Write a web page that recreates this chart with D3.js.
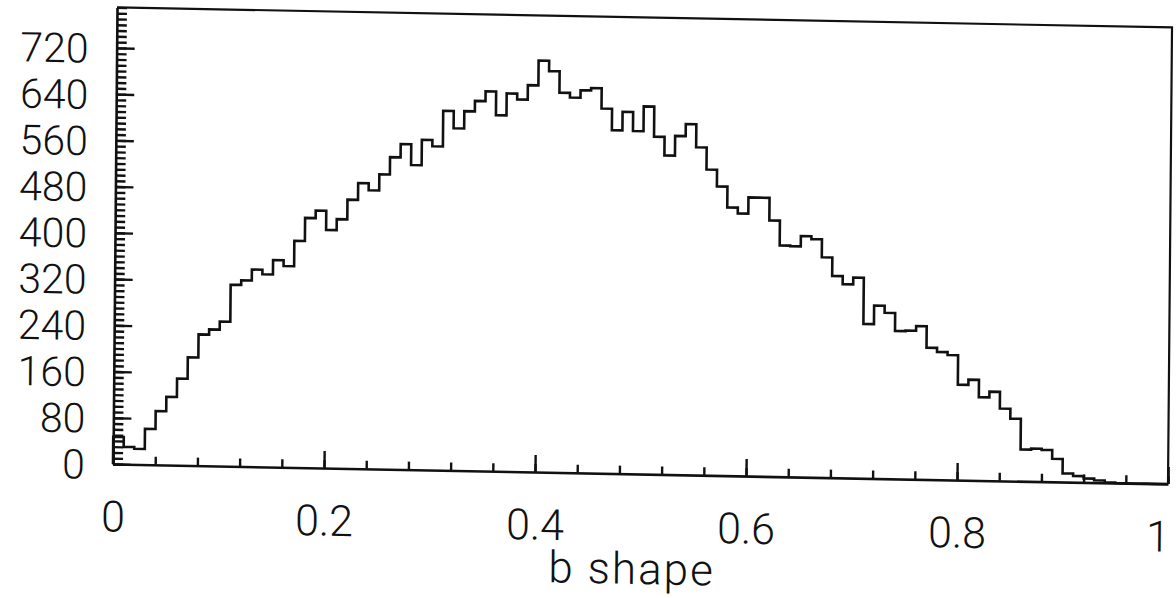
<!DOCTYPE html>
<html>
<head>
<meta charset="utf-8">
<script src="https://cdn.jsdelivr.net/npm/d3@7"></script>
<style>
  body { margin: 0; background: #fff; }
  svg { display: block; }
  .axis path, .axis line { stroke: #111; }
  .label { font-family: "Roboto", "Liberation Sans", Arial, sans-serif; font-weight: 300; fill: #111; }
</style>
</head>
<body>
<div id="chart"></div>
<script>
// histogram of "b shape", 100 bins from 0 to 1 (counts)
let binWidth = 0.01;
let counts = [
    47, 30, 27, 62, 93, 118, 150, 187, 227, 236,
    250, 314, 322, 341, 333, 358, 348, 392, 432, 445,
    412, 431, 465, 494, 482, 510, 540, 563, 527, 571,
    560, 622, 592, 622, 640, 657, 616, 654, 644, 669,
    712, 694, 657, 649, 662, 666, 631, 594, 626, 593,
    636, 584, 552, 586, 607, 567, 529, 500, 464, 454,
    482, 482, 443, 400, 399, 417, 412, 381, 349, 335,
    347, 267, 299, 287, 256, 257, 265, 228, 221, 216,
    165, 174, 144, 154, 125, 108, 55, 57, 55, 40,
    15, 11, 7, 4, 1, 0, 0, 0, 0, 0
];
let xMajorTicks = [0, 0.2, 0.4, 0.6, 0.8, 1];
let xTickLabels = ["0", "0.2", "0.4", "0.6", "0.8", "1"];
let yMajorTicks = [0, 80, 160, 240, 320, 400, 480, 560, 640, 720];
let xTitle = "b shape";

let width = 1176, height = 598;
let plotW = 1055, plotH = 456.6;
let yMax = 790;

let svg = d3.select("#chart").append("svg")
    .attr("width", width)
    .attr("height", height);

// the scanned page sits slightly askew, so the whole frame is tilted a little
let g = svg.append("g")
    .attr("transform", `translate(113,464) matrix(1,0.019,-0.0088,1,0,0) translate(0,${-plotH})`);

let x = d3.scaleLinear().domain([0, 1]).range([0, plotW]);
let y = d3.scaleLinear().domain([0, yMax]).range([plotH, 0]);

// minor ticks first
g.append("g")
    .attr("class", "axis")
    .call(d3.axisLeft(y).tickValues(d3.range(0, yMax + 1, 10)).tickSize(-10).tickFormat(""))
    .call(s => s.select(".domain").remove())
    .selectAll("line").attr("stroke-width", 2.4);

g.append("g")
    .attr("class", "axis")
    .attr("transform", `translate(0,${plotH})`)
    .call(d3.axisBottom(x).tickValues(d3.range(0, 1.0001, 0.04)).tickSize(-8).tickFormat(""))
    .call(s => s.select(".domain").remove())
    .selectAll("line").attr("stroke-width", 2.4);

// major ticks + labels
let yAxis = g.append("g")
    .attr("class", "axis")
    .call(d3.axisLeft(y).tickValues(yMajorTicks).tickSizeInner(-18).tickSizeOuter(0).tickPadding(28));
yAxis.select(".domain").attr("stroke-width", 2.6);
yAxis.selectAll("line").attr("stroke-width", 2.4);
yAxis.selectAll("text").attr("class", "label").attr("font-size", 41).attr("dy", "0.36em");

let xAxis = g.append("g")
    .attr("class", "axis")
    .attr("transform", `translate(0,${plotH})`)
    .call(d3.axisBottom(x).tickValues(xMajorTicks).tickSizeInner(-17).tickSizeOuter(0)
        .tickPadding(37).tickFormat((d, i) => xTickLabels[i]));
xAxis.select(".domain").attr("stroke-width", 2.6);
xAxis.selectAll("line").attr("stroke-width", 2.4);
xAxis.selectAll("text").attr("class", "label").attr("font-size", 43).attr("dy", "0.71em");
// last label sits against the right edge of the page
xAxis.selectAll("text").filter(d => d === 1).attr("text-anchor", "end").attr("x", 2);

// top and right edges of the frame
g.append("path")
    .attr("d", `M${x(0)},${y(yMax)}H${x(1)}V${y(0)}`)
    .attr("fill", "none")
    .attr("stroke", "#111")
    .attr("stroke-width", 2.2);

// histogram outline
let pts = [{ x: 0, c: 0 }]
    .concat(counts.map((c, i) => ({ x: i * binWidth, c: c })))
    .concat([{ x: 1, c: 0 }]);

let line = d3.line()
    .x(d => x(d.x))
    .y(d => y(d.c))
    .curve(d3.curveStepAfter);

g.append("path")
    .datum(pts)
    .attr("d", line)
    .attr("fill", "none")
    .attr("stroke", "#111")
    .attr("stroke-width", 2.6);

// axis title
g.append("text")
    .attr("class", "label")
    .attr("x", x(0.5) - 8)
    .attr("y", plotH + 110)
    .attr("text-anchor", "middle")
    .attr("font-size", 44)
    .attr("letter-spacing", 2)
    .text(xTitle);
</script>
</body>
</html>
